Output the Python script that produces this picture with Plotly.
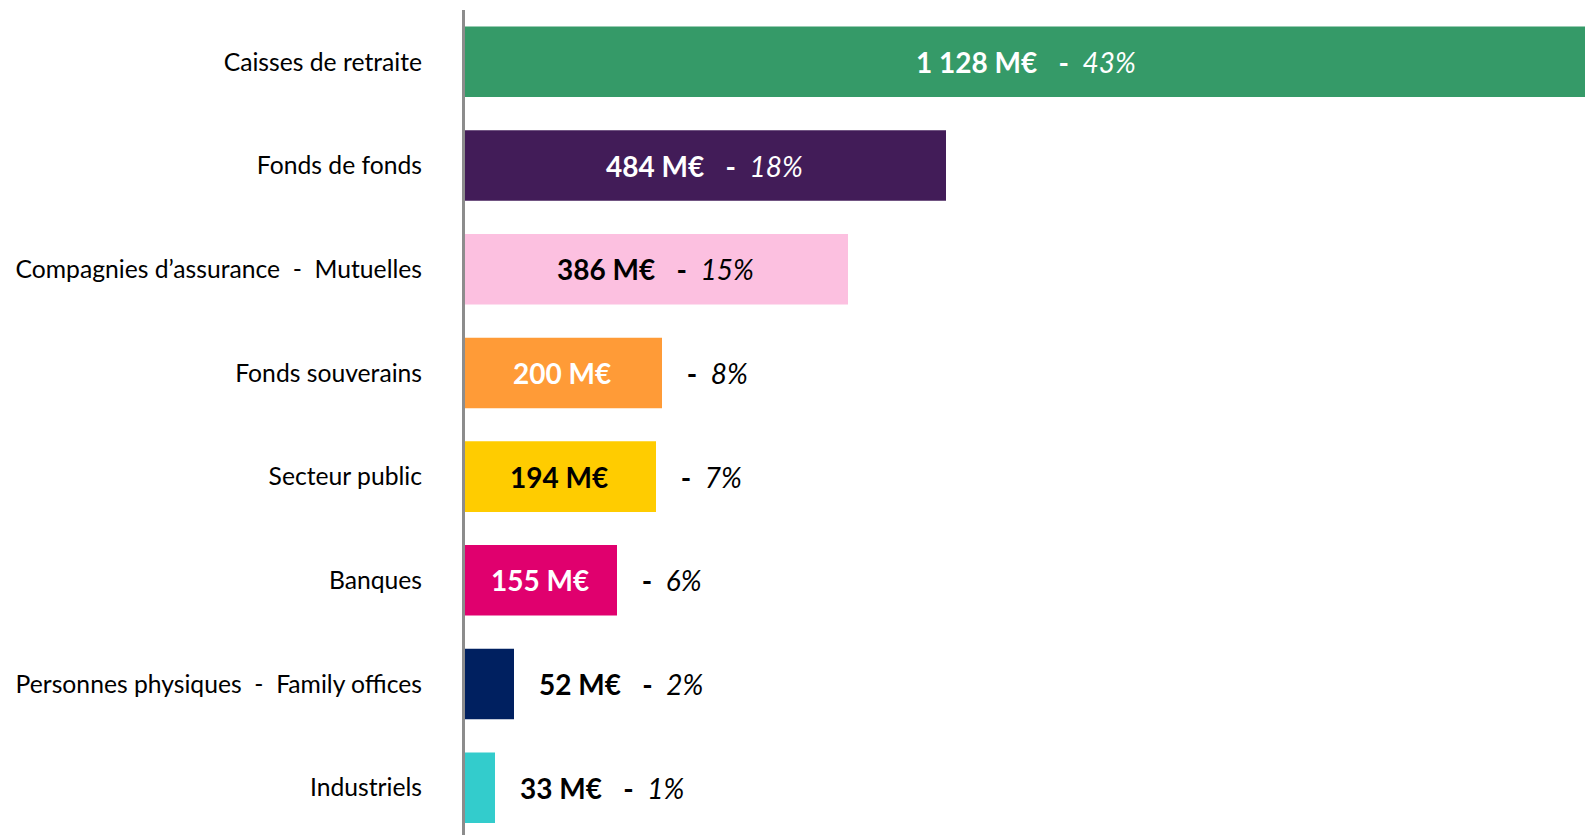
import plotly.graph_objects as go

# ---- data ----
categories = [
    "Caisses de retraite",
    "Fonds de fonds",
    "Compagnies d\u2019assurance\u00a0 -\u00a0 Mutuelles",
    "Fonds souverains",
    "Secteur public",
    "Banques",
    "Personnes physiques\u00a0 -\u00a0 Family offices",
    "Industriels",
]
values = [1128, 484, 386, 200, 194, 155, 52, 33]
shares = [43, 18, 15, 8, 7, 6, 2, 1]

# ---- styles ----
bar_colors = ["#359A68", "#421C58", "#FCC0E0", "#FF9B37", "#FFCC00", "#E0006E", "#002060", "#33CCCC"]
inside_text_colors = ["white", "white", "black", "white", "black", "white", "black", "black"]
label_modes = ["inside", "inside", "inside", "split", "split", "split", "outside", "outside"]

FONT = "Lato"
NB = "\u00a0"
LEFT = 462
PLOT_W = 1585 - LEFT
XMAX = PLOT_W * 1.0  # 1 px per M€

fig = go.Figure()
fig.add_trace(go.Bar(
    y=categories, x=values, orientation="h",
    marker=dict(color=bar_colors, line=dict(width=0)),
    hoverinfo="skip",
))

def fmt_val(v):
    s = f"{v:,}".replace(",", NB)
    return f"{s}{NB}M€"

annotations = []
for cat, v, p, mode, tc in zip(categories, values, shares, label_modes, inside_text_colors):
    val = f"<b>{fmt_val(v)}</b>"
    pct = f"<b>{NB}-{NB}{NB}</b><i>{p}%</i>"
    if mode == "inside":
        annotations.append(dict(x=v / 2, y=cat, text=f"{val}{NB}{NB}{pct}",
                                showarrow=False, xanchor="center",
                                font=dict(family=FONT, size=28, color=tc)))
    elif mode == "split":
        annotations.append(dict(x=v / 2, y=cat, text=val, showarrow=False, xanchor="center",
                                font=dict(family=FONT, size=28, color=tc)))
        annotations.append(dict(x=v, y=cat, text=pct, showarrow=False, xanchor="left", xshift=16,
                                font=dict(family=FONT, size=28, color="black")))
    else:
        annotations.append(dict(x=v, y=cat, text=f"{val}{NB}{NB}{pct}", showarrow=False,
                                xanchor="left", xshift=23,
                                font=dict(family=FONT, size=28, color="black")))

n = len(categories)
fig.update_layout(
    width=1585, height=835,
    margin=dict(l=LEFT, r=0, t=10, b=0),
    plot_bgcolor="white", paper_bgcolor="white",
    showlegend=False,
    bargap=0.32,
    annotations=annotations,
    xaxis=dict(range=[0, XMAX], visible=False, fixedrange=True, domain=[0, 1]),
    yaxis=dict(
        type="category",
        categoryorder="array", categoryarray=categories,
        range=[n - 0.544, -0.5],
        anchor="free", position=1 / PLOT_W,
        showline=True, linecolor="#8C8C8C", linewidth=3,
        ticks="", showgrid=False, zeroline=False,
        ticklabelstandoff=35,
        tickfont=dict(family=FONT, size=24.7, color="black"),
        fixedrange=True,
    ),
)

fig.write_html("out.html", post_script="document.body.style.margin='0';", config={"displayModeBar": False})
